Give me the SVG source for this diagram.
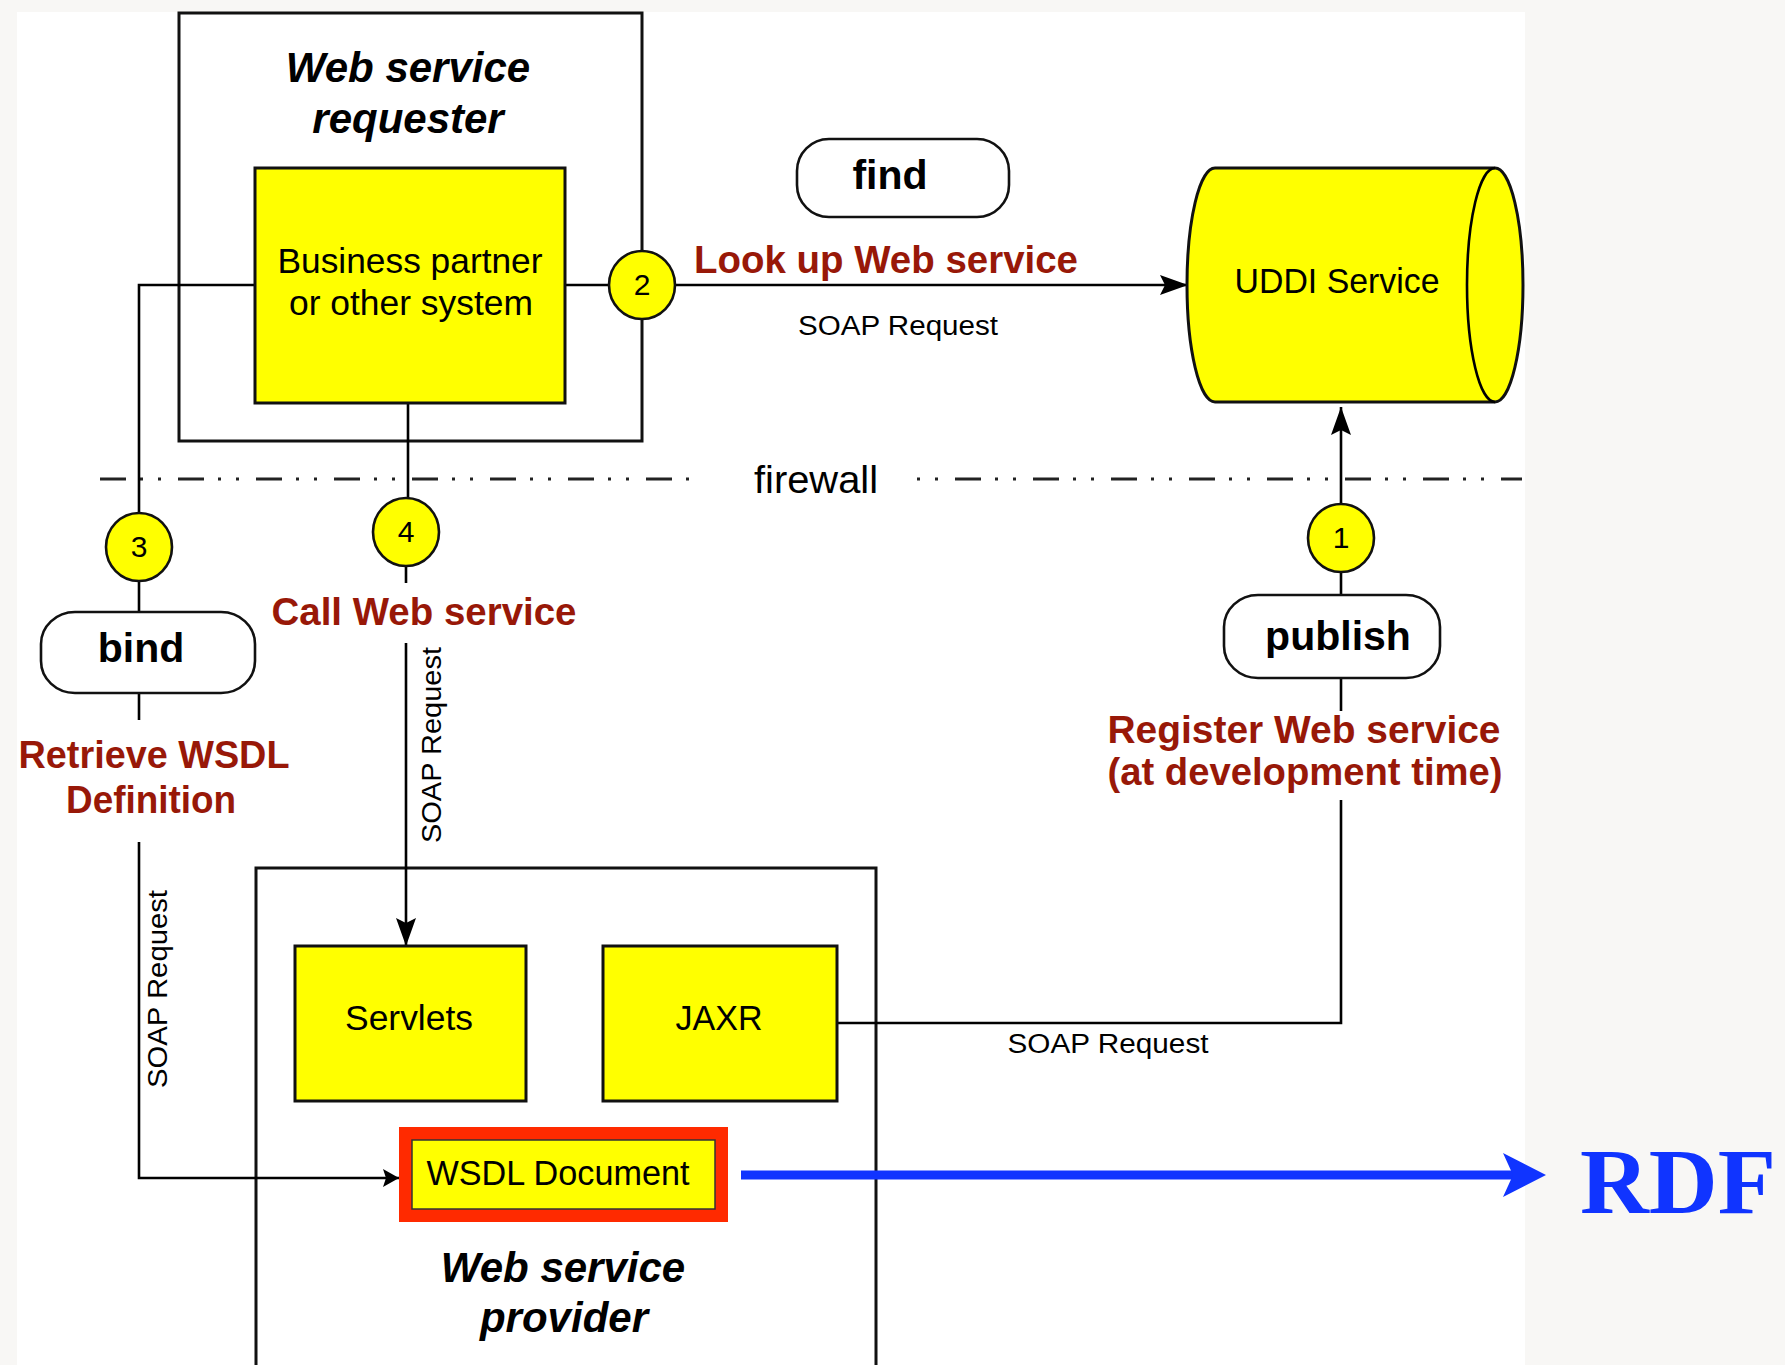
<svg xmlns="http://www.w3.org/2000/svg" width="1785" height="1365" viewBox="0 0 1785 1365">
  <style>
    .ln { fill: none; stroke: #000; stroke-width: 2.6; }
    .frame { fill: none; stroke: #111; stroke-width: 3; }
    .box { fill: #ffff00; stroke: #111; stroke-width: 3; }
    .pill { fill: #fff; stroke: #111; stroke-width: 2.6; }
    .num { fill: #ffff00; stroke: #111; stroke-width: 2.6; }
    .t { font-family: "Liberation Sans", Arial, sans-serif; fill: #000; }
    .title { font-family: "Liberation Sans", Arial, sans-serif; font-weight: bold; font-style: italic; font-size: 42px; fill: #000; }
    .verb { font-family: "Liberation Sans", Arial, sans-serif; font-weight: bold; font-size: 41px; fill: #000; }
    .red { font-family: "Liberation Sans", Arial, sans-serif; font-weight: bold; font-size: 38px; fill: #981808; }
    .lbl { font-family: "Liberation Sans", Arial, sans-serif; font-size: 35px; fill: #000; }
    .soap { font-family: "Liberation Sans", Arial, sans-serif; font-size: 27px; fill: #000; }
    .n { font-family: "Liberation Sans", Arial, sans-serif; font-size: 30px; fill: #000; }
  </style>
  <defs>
    <marker id="arr" viewBox="0 0 28 20" refX="28" refY="10" markerWidth="28" markerHeight="20" markerUnits="userSpaceOnUse" orient="auto">
      <path d="M0,0 L28,10 L0,20 L5,10 Z" fill="#000"/>
    </marker>
    <marker id="arrS" viewBox="0 0 16 18" refX="16" refY="9" markerWidth="16" markerHeight="18" markerUnits="userSpaceOnUse" orient="auto">
      <path d="M0,0 L16,9 L0,18 L3,9 Z" fill="#000"/>
    </marker>
  </defs>

  <!-- page background -->
  <rect x="0" y="0" width="1785" height="1365" fill="#f8f7f5"/>
  <rect x="17" y="12" width="1508" height="1353" fill="#ffffff"/>

  <!-- firewall divider -->
  <g id="firewall">
    <path d="M100,479 H702" stroke="#222" stroke-width="3" stroke-dasharray="26 14 3 15 3 17" fill="none"/>
    <path d="M917,479 H1522" stroke="#222" stroke-width="3" stroke-dasharray="26 14 3 15 3 17" stroke-dashoffset="40" fill="none"/>
    <text class="t" x="754" y="493" font-size="38" textLength="124" lengthAdjust="spacingAndGlyphs">firewall</text>
  </g>

  <!-- container boxes -->
  <g id="requester">
    <rect class="frame" x="179" y="13" width="463" height="428"/>
    <text class="title" x="408" y="82" text-anchor="middle">Web service</text>
    <text class="title" x="408" y="133" text-anchor="middle">requester</text>
  </g>
  <g id="provider">
    <rect class="frame" x="256" y="868" width="620" height="520"/>
    <text class="title" x="563" y="1282" text-anchor="middle">Web service</text>
    <text class="title" x="564" y="1332" text-anchor="middle">provider</text>
  </g>

  <!-- connectors -->
  <g id="connectors">
    <path class="ln" d="M255,285 H139 V514"/>
    <path class="ln" d="M139,580 V612"/>
    <path class="ln" d="M139,693 V720"/>
    <path class="ln" d="M139,842 V1178 H399" marker-end="url(#arrS)"/>
    <path class="ln" d="M565,285 H609"/>
    <path class="ln" d="M676,285 H1188" marker-end="url(#arr)"/>
    <path class="ln" d="M408,403 V498"/>
    <path class="ln" d="M406,566 V583"/>
    <path class="ln" d="M406,643 V946" marker-end="url(#arr)"/>
    <path class="ln" d="M837,1023 H1341 V800"/>
    <path class="ln" d="M1341,678 V711"/>
    <path class="ln" d="M1341,572 V595"/>
    <path class="ln" d="M1341,504 V407" marker-end="url(#arr)"/>
    <!-- RDF export arrow -->
    <path d="M741,1175 H1515" stroke="#1034ff" stroke-width="9" fill="none"/>
    <path d="M1503,1153 L1546,1175 L1503,1197 L1513,1175 Z" fill="#1034ff"/>
  </g>

  <!-- connector labels -->
  <g id="connector-labels">
    <text class="red" x="886" y="273" text-anchor="middle" textLength="384" lengthAdjust="spacingAndGlyphs">Look up Web service</text>
    <text class="soap" x="898" y="335" text-anchor="middle" textLength="200" lengthAdjust="spacingAndGlyphs">SOAP Request</text>
    <text class="red" x="424" y="625" text-anchor="middle" textLength="305" lengthAdjust="spacingAndGlyphs">Call Web service</text>
    <text class="soap" transform="translate(441,745) rotate(-90)" text-anchor="middle" textLength="196" lengthAdjust="spacingAndGlyphs">SOAP Request</text>
    <text class="red" x="154" y="768" text-anchor="middle" textLength="271" lengthAdjust="spacingAndGlyphs">Retrieve WSDL</text>
    <text class="red" x="151" y="813" text-anchor="middle" textLength="170" lengthAdjust="spacingAndGlyphs">Definition</text>
    <text class="soap" transform="translate(167,989) rotate(-90)" text-anchor="middle" textLength="198" lengthAdjust="spacingAndGlyphs">SOAP Request</text>
    <text class="red" x="1304" y="743" text-anchor="middle" textLength="393" lengthAdjust="spacingAndGlyphs">Register Web service</text>
    <text class="red" x="1305" y="785" text-anchor="middle" textLength="395" lengthAdjust="spacingAndGlyphs">(at development time)</text>
    <text class="soap" x="1108" y="1053" text-anchor="middle" textLength="201" lengthAdjust="spacingAndGlyphs">SOAP Request</text>
  </g>

  <!-- components -->
  <g id="business-partner">
    <rect class="box" x="255" y="168" width="310" height="235"/>
    <text class="lbl" x="410" y="273" text-anchor="middle" textLength="265" lengthAdjust="spacingAndGlyphs">Business partner</text>
    <text class="lbl" x="411" y="315" text-anchor="middle" textLength="244" lengthAdjust="spacingAndGlyphs">or other system</text>
  </g>
  <g id="uddi">
    <path class="box" d="M1215,168 H1495 A28,117 0 0 1 1495,402 H1215 A28,117 0 0 1 1215,168 Z"/>
    <path class="ln" d="M1495,168 A28,117 0 0 0 1495,402" stroke-width="2.6"/>
    <text class="lbl" x="1337" y="293" font-size="34" text-anchor="middle" textLength="205" lengthAdjust="spacingAndGlyphs">UDDI Service</text>
  </g>
  <g id="servlets">
    <rect class="box" x="295" y="946" width="231" height="155"/>
    <text class="lbl" x="409" y="1030" text-anchor="middle" textLength="128" lengthAdjust="spacingAndGlyphs">Servlets</text>
  </g>
  <g id="jaxr">
    <rect class="box" x="603" y="946" width="234" height="155"/>
    <text class="lbl" x="719" y="1030" text-anchor="middle" textLength="87" lengthAdjust="spacingAndGlyphs">JAXR</text>
  </g>
  <g id="wsdl-document">
    <rect x="399" y="1127" width="329" height="95" fill="#ff2a00"/>
    <rect x="412" y="1140" width="303" height="69" fill="#ffff00" stroke="#333" stroke-width="1.5"/>
    <text class="lbl" x="558" y="1185" font-size="34" text-anchor="middle" textLength="263" lengthAdjust="spacingAndGlyphs">WSDL Document</text>
  </g>
  <g id="rdf">
    <text x="1580" y="1213" font-family="'Liberation Serif', 'Times New Roman', serif" font-weight="bold" font-size="94" fill="#1034ff" textLength="196" lengthAdjust="spacingAndGlyphs">RDF</text>
  </g>

  <!-- operations -->
  <g id="find">
    <rect class="pill" x="797" y="139" width="212" height="78" rx="32" ry="32"/>
    <text class="verb" x="890" y="189" text-anchor="middle">find</text>
  </g>
  <g id="bind">
    <rect class="pill" x="41" y="612" width="214" height="81" rx="34" ry="32"/>
    <text class="verb" x="141" y="662" text-anchor="middle">bind</text>
  </g>
  <g id="publish">
    <rect class="pill" x="1224" y="595" width="216" height="83" rx="34" ry="32"/>
    <text class="verb" x="1338" y="650" text-anchor="middle">publish</text>
  </g>

  <!-- step markers -->
  <g id="step-1">
    <ellipse class="num" cx="1341" cy="538" rx="33" ry="34"/>
    <text class="n" x="1341" y="548" text-anchor="middle">1</text>
  </g>
  <g id="step-2">
    <ellipse class="num" cx="642" cy="285" rx="33" ry="34"/>
    <text class="n" x="642" y="295" text-anchor="middle">2</text>
  </g>
  <g id="step-3">
    <ellipse class="num" cx="139" cy="547" rx="33" ry="34"/>
    <text class="n" x="139" y="557" text-anchor="middle">3</text>
  </g>
  <g id="step-4">
    <ellipse class="num" cx="406" cy="532" rx="33" ry="34"/>
    <text class="n" x="406" y="542" text-anchor="middle">4</text>
  </g>
</svg>
